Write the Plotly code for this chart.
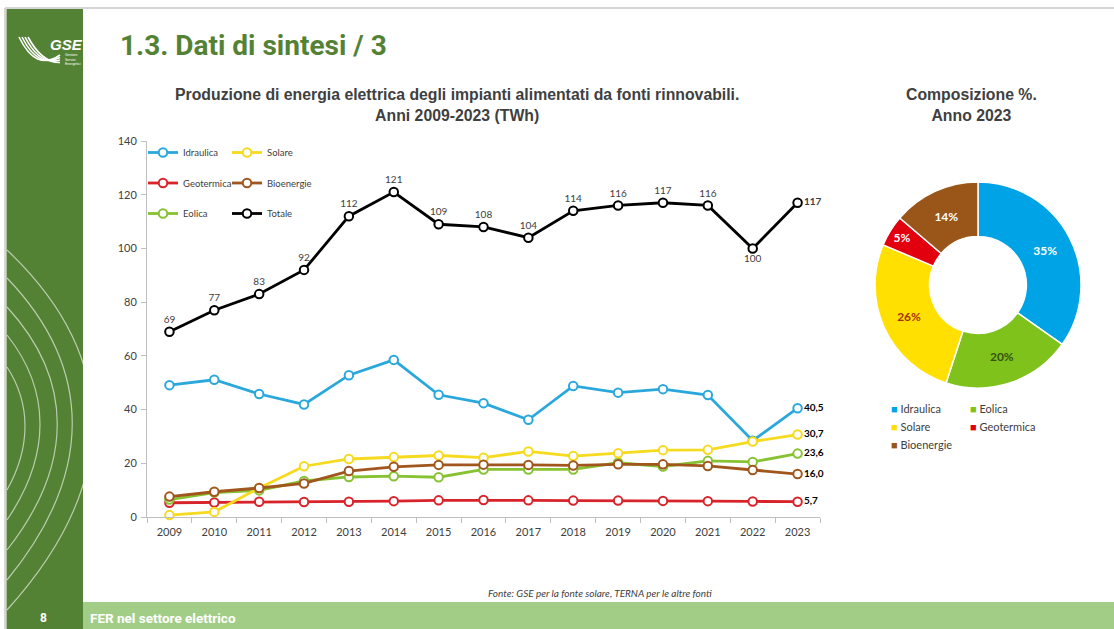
import plotly.graph_objects as go

# ---- data -------------------------------------------------------------
years = [2009, 2010, 2011, 2012, 2013, 2014, 2015, 2016, 2017, 2018, 2019, 2020, 2021, 2022, 2023]
idraulica = [49.1, 51.1, 45.8, 41.9, 52.8, 58.5, 45.5, 42.4, 36.2, 48.8, 46.3, 47.6, 45.4, 28.4, 40.5]
solare = [0.7, 1.9, 10.8, 18.9, 21.6, 22.3, 22.9, 22.1, 24.4, 22.7, 23.7, 24.9, 25.0, 28.1, 30.7]
geotermica = [5.3, 5.4, 5.7, 5.6, 5.7, 5.9, 6.2, 6.3, 6.2, 6.1, 6.1, 6.0, 5.9, 5.8, 5.7]
bioenergie = [7.6, 9.4, 10.8, 12.5, 17.1, 18.7, 19.4, 19.5, 19.4, 19.2, 19.6, 19.6, 19.0, 17.5, 16.0]
eolica = [6.5, 9.1, 9.9, 13.4, 14.9, 15.2, 14.8, 17.7, 17.7, 17.7, 20.2, 18.8, 20.9, 20.5, 23.6]
totale = [69, 77, 83, 92, 112, 121, 109, 108, 104, 114, 116, 117, 116, 100, 117]

y_ticks = [0, 20, 40, 60, 80, 100, 120, 140]

pie_labels = ["Idraulica", "Eolica", "Solare", "Geotermica", "Bioenergie"]
pie_values = [40.5, 23.6, 30.7, 5.7, 16.0]  # anno 2023, TWh

# ---- page geometry helpers (pixels -> paper) ----------------------------
W, H = 1114, 629


def px(x):
    return x / W


def py(y):
    return 1 - y / H


LINE_COL = {
    "Idraulica": "#2aa8dc",
    "Solare": "#f6da1e",
    "Geotermica": "#d8232a",
    "Bioenergie": "#a0561c",
    "Eolica": "#86c232",
    "Totale": "#000000",
}
PIE_COL = ["#00a3e6", "#7fc21c", "#ffe000", "#e2000f", "#9a5518"]
PIE_TXT = ["#ffffff", "#355410", "#a8300c", "#ffffff", "#ffffff"]

GREEN_DARK = "#548235"
GREEN_LIGHT = "#a2cd86"
TXT = "#404040"
LBL_FONT = "Lato"
HEAD_FONT = "Liberation Sans"

fig = go.Figure()

series = [
    ("Idraulica", idraulica, "legend", "g1"),
    ("Geotermica", geotermica, "legend", "g2"),
    ("Eolica", eolica, "legend", "g3"),
    ("Solare", solare, "legend2", "g4"),
    ("Bioenergie", bioenergie, "legend2", "g5"),
]

cats = [str(y) for y in years]

for name, vals, leg, grp in series:
    labels = [""] * (len(vals) - 1) + ["<b>" + f"{vals[-1]:.1f}".replace(".", ",") + "</b>"]
    fig.add_trace(go.Scatter(
        x=cats, y=vals, name=name,
        mode="lines+markers+text",
        text=labels, textposition="middle right",
        textfont=dict(family=LBL_FONT, size=10, color="#000000"),
        line=dict(color=LINE_COL[name], width=2.8),
        marker=dict(symbol="circle", size=8.5, color="white",
                    line=dict(color=LINE_COL[name], width=2)),
        legend=leg, legendgroup=grp, cliponaxis=False,
    ))

tot_text = [str(v) for v in totale]
tot_text[-1] = "<b>" + tot_text[-1] + "</b>"
tot_pos = ["top center"] * len(totale)
tot_pos[years.index(2022)] = "bottom center"
tot_pos[-1] = "middle right"
fig.add_trace(go.Scatter(
    x=cats, y=totale, name="Totale",
    mode="lines+markers+text",
    text=tot_text, textposition=tot_pos,
    textfont=dict(family=LBL_FONT, size=10, color=TXT),
    line=dict(color="#000000", width=2.8),
    marker=dict(symbol="circle", size=8.5, color="white",
                line=dict(color="#000000", width=2)),
    legend="legend2", legendgroup="g6", cliponaxis=False,
))

# ---- donut 2023 ---------------------------------------------------------
fig.add_trace(go.Pie(
    labels=pie_labels, values=pie_values,
    sort=False, direction="clockwise", rotation=0,
    hole=0.47,
    marker=dict(colors=PIE_COL, line=dict(color="white", width=1.5)),
    textinfo="percent", texttemplate="<b>%{percent:.0%}</b>",
    textposition="inside", insidetextorientation="horizontal",
    textfont=dict(family="Lato", size=12, color=PIE_TXT),
    domain=dict(x=[px(875), px(1081)], y=[py(388), py(182)]),
    showlegend=False,
))

# ---- page decoration ------------------------------------------------------
shapes = []
# slide border lines
shapes.append(dict(type="line", xref="paper", yref="paper",
                   x0=px(5), x1=1, y0=py(8), y1=py(8),
                   line=dict(color="#c9c9c9", width=1.5), layer="below"))
shapes.append(dict(type="line", xref="paper", yref="paper",
                   x0=px(5), x1=px(5), y0=py(8), y1=0,
                   line=dict(color="#c9c9c9", width=1.5), layer="below"))
# green side band and footer
shapes.append(dict(type="rect", xref="paper", yref="paper",
                   x0=px(6.5), x1=px(83), y0=0, y1=py(9),
                   fillcolor=GREEN_DARK, line=dict(width=0), layer="below"))
shapes.append(dict(type="rect", xref="paper", yref="paper",
                   x0=px(83), x1=1, y0=0, y1=py(602),
                   fillcolor=GREEN_LIGHT, line=dict(width=0), layer="below"))


def curve(pts):
    (x0, y0), (x1, y1), (x2, y2), (x3, y3) = pts
    return (f"M {px(x0)},{py(y0)} C {px(x1)},{py(y1)} {px(x2)},{py(y2)} {px(x3)},{py(y3)}")


# decorative arcs on the side band
for y0, y1, c in [(367, 490, 31), (335, 520, 51), (307, 550, 74), (278, 580, 94), (250, 610, 121)]:
    shapes.append(dict(type="path", xref="paper", yref="paper",
                       path=curve([(7, y0), (c, y0 + (y1 - y0) * 0.3),
                                   (c, y1 - (y1 - y0) * 0.35), (7, y1)]),
                       line=dict(color="rgba(255,255,255,0.6)", width=1.2), layer="below"))

# logo swoosh
for i in range(4):
    shapes.append(dict(type="path", xref="paper", yref="paper",
                       path=(f"M {px(19 + i * 3)},{py(37)} Q {px(36 + i * 2)},{py(72 - i * 3)} "
                             f"{px(60)},{py(55 + i * 2.5)}"),
                       line=dict(color="white", width=1.6), layer="below"))

annotations = [
    dict(text="<b><i>GSE</i></b>", x=px(48), y=py(44), xanchor="left", yanchor="middle",
         font=dict(family=HEAD_FONT, size=15, color="white")),
    dict(text="Gestore<br>Servizi<br>Energetici", x=px(63), y=py(60), xanchor="left", yanchor="middle",
         font=dict(family=HEAD_FONT, size=3.5, color="white"), align="left"),
    dict(text="<b>1.3. Dati di sintesi / 3</b>", x=px(118), y=py(45), xanchor="left", yanchor="middle",
         font=dict(family="Roboto", size=28, color=GREEN_DARK)),
    dict(text="<b>Produzione di energia elettrica degli impianti alimentati da fonti rinnovabili.<br>"
              "Anni 2009-2023 (TWh)</b>",
         x=px(457), y=py(105), xanchor="center", yanchor="middle",
         font=dict(family=HEAD_FONT, size=15.8, color=TXT)),
    dict(text="<b>Composizione %.<br>Anno 2023</b>",
         x=px(971), y=py(105), xanchor="center", yanchor="middle",
         font=dict(family=HEAD_FONT, size=15.8, color=TXT)),
    dict(text="<i>Fonte: GSE per la fonte solare, TERNA per le altre fonti</i>",
         x=px(600), y=py(593), xanchor="center", yanchor="middle",
         font=dict(family="Lato", size=10, color=TXT)),
    dict(text="<b>8</b>", x=px(43), y=py(618), xanchor="center", yanchor="middle",
         font=dict(family="Roboto", size=12, color="white")),
    dict(text="<b>FER nel settore elettrico</b>", x=px(88), y=py(618), xanchor="left", yanchor="middle",
         font=dict(family="Roboto", size=13.5, color="white")),
]

# donut legend, two columns
leg_x = [889, 968]
for i, (lab, col) in enumerate(zip(pie_labels, PIE_COL)):
    annotations.append(dict(
        text=f"<span style='color:{col}'>■</span> {lab}",
        x=px(leg_x[i % 2]), y=py(408 + 18 * (i // 2)), xanchor="left", yanchor="middle",
        font=dict(family="Lato", size=11, color=TXT), showarrow=False))

for a in annotations:
    a.setdefault("showarrow", False)
    a.setdefault("xref", "paper")
    a.setdefault("yref", "paper")

fig.update_layout(
    width=W, height=H,
    margin=dict(l=0, r=0, t=0, b=0, pad=0, autoexpand=False),
    paper_bgcolor="white", plot_bgcolor="rgba(0,0,0,0)",
    shapes=shapes, annotations=annotations,
    xaxis=dict(domain=[px(147), px(820)], type="category", range=[-0.5, 14.5],
               autorange=False, automargin=False,
               showline=True, linecolor="#bfbfbf", linewidth=1,
               ticks="outside", tickson="boundaries", ticklen=5, tickcolor="#bfbfbf",
               ticklabelstandoff=5,
               tickfont=dict(family=LBL_FONT, size=11, color=TXT),
               showgrid=False, zeroline=False, fixedrange=True),
    yaxis=dict(domain=[py(517), py(141)], range=[0, 140], autorange=False, automargin=False,
               tickvals=y_ticks,
               showline=True, linecolor="#bfbfbf", linewidth=1,
               ticks="outside", ticklen=5, tickcolor="#bfbfbf",
               ticklabelstandoff=2,
               tickfont=dict(family=LBL_FONT, size=11, color=TXT),
               showgrid=False, zeroline=False, fixedrange=True),
    legend=dict(x=px(143), y=py(138), xanchor="left", yanchor="top",
                bgcolor="rgba(0,0,0,0)", tracegroupgap=11.5, itemwidth=30,
                font=dict(family=LBL_FONT, size=9.5, color=TXT)),
    legend2=dict(x=px(227), y=py(138), xanchor="left", yanchor="top",
                 bgcolor="rgba(0,0,0,0)", tracegroupgap=11.5, itemwidth=30,
                 font=dict(family=LBL_FONT, size=9.5, color=TXT)),
)

fig.write_html("out.html")
